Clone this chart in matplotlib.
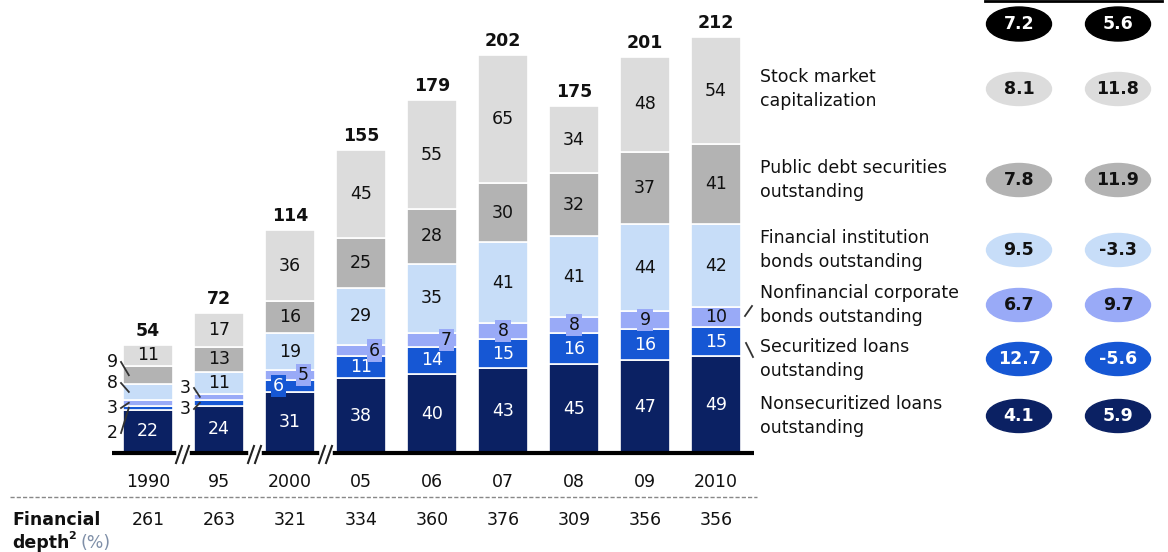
import matplotlib
matplotlib.use('Agg')
import matplotlib.pyplot as plt
from matplotlib.patches import Ellipse
import numpy as np

plt.rcParams['font.family'] = ['DejaVu Sans']

years = ['1990', '95', '2000', '05', '06', '07', '08', '09', '2010']
nonsecuritized = [22, 24, 31, 38, 40, 43, 45, 47, 49]
securitized = [2, 3, 6, 11, 14, 15, 16, 16, 15]
nonfin_bonds = [3, 3, 5, 6, 7, 8, 8, 9, 10]
fin_bonds = [8, 11, 19, 29, 35, 41, 41, 44, 42]
public_debt = [9, 13, 16, 25, 28, 30, 32, 37, 41]
stock_market = [11, 17, 36, 45, 55, 65, 34, 48, 54]
totals = [54, 72, 114, 155, 179, 202, 175, 201, 212]
fin_depth = [261, 263, 321, 334, 360, 376, 309, 356, 356]

series_names = ['Nonsecuritized loans\noutstanding', 'Securitized loans\noutstanding',
                'Nonfinancial corporate\nbonds outstanding', 'Financial institution\nbonds outstanding',
                'Public debt securities\noutstanding', 'Stock market\ncapitalization']
growth_1 = [4.1, 12.7, 6.7, 9.5, 7.8, 8.1]
growth_2 = [5.9, -5.6, 9.7, -3.3, 11.9, 11.8]
growth_total = [7.2, 5.6]

colors = ['#0b2163', '#1657d4', '#99aaf7', '#c7ddf8', '#b3b3b3', '#dcdcdc']
text_cols = ['white', 'white', '#111111', '#111111', '#111111', '#111111']
series = [nonsecuritized, securitized, nonfin_bonds, fin_bonds, public_debt, stock_market]

# pixel layout -> data units
X0, DX = 148.0, 71.0
Y0, DY = 453.0, 1.97
def px(x):
    return (x - X0) / DX
def py(y):
    return (Y0 - y) / DY

FS = 12.5
fig = plt.figure(figsize=(11.68, 5.52), dpi=100)
ax = fig.add_axes([0, 0, 1, 1])
ax.set_xlim(px(0), px(1168))
ax.set_ylim(py(552), py(0))
ax.axis('off')

x = np.arange(len(years))
W = 0.70
bottom = np.zeros(len(years))
for k, vals in enumerate(series):
    ax.bar(x, vals, W, bottom=bottom, color=colors[k], edgecolor='white', linewidth=1.2, zorder=2)
    bottom += np.array(vals)

# special small-segment labels
boxed = {(2, 1): -0.16, (2, 2): 0.19, (3, 2): 0.19, (4, 2): 0.2, (5, 2): 0.0, (6, 2): 0.0, (7, 2): 0.0}
outside = {(0, 4): 362, (0, 3): 383, (0, 2): 408, (0, 1): 433, (1, 2): 388, (1, 1): 409}

bottom = np.zeros(len(years))
for k, vals in enumerate(series):
    for i, v in enumerate(vals):
        yc = bottom[i] + v / 2
        if (i, k) in outside:
            ly = outside[(i, k)]
            lx = 112 if i == 0 else 185
            ax.text(px(lx), py(ly), str(v), ha='center', va='center', fontsize=FS, color='#111111')
            ax.plot([px(lx + 9), x[i] - W / 2 + 0.08], [py(ly), yc], color='#333333', lw=1.3, zorder=3)
        elif (i, k) in boxed:
            ax.text(x[i] + boxed[(i, k)], yc, str(v), ha='center', va='center', fontsize=FS,
                    color=text_cols[k], zorder=4,
                    bbox=dict(boxstyle='square,pad=0.12', fc=colors[k], ec='none'))
        else:
            ax.text(x[i], yc, str(v), ha='center', va='center', fontsize=FS, color=text_cols[k], zorder=4)
    bottom += np.array(vals)

for i, t in enumerate(totals):
    ax.text(x[i], bottom[i] + 2.5, str(t), ha='center', va='bottom', fontsize=FS, fontweight='bold', color='#111111')

# axis line with breaks
ax.plot([px(112), px(754)], [0, 0], color='black', lw=3, zorder=3, solid_capstyle='butt')
for bx in [183, 255, 326]:
    ax.plot([px(bx - 4), px(bx + 4)], [0, 0], color='white', lw=4, zorder=4)
    for off in (-4, 3):
        ax.plot([px(bx + off - 3), px(bx + off + 3)], [py(463), py(446)], color='#222222', lw=1.5, zorder=5)

for i, yr in enumerate(years):
    ax.text(x[i], py(482), yr, ha='center', va='center', fontsize=FS, color='#111111')
    ax.text(x[i], py(520), str(fin_depth[i]), ha='center', va='center', fontsize=FS, color='#111111')

ax.plot([px(10), px(757)], [py(497), py(497)], color='#888888', lw=1, dashes=(3, 1.5))
ax.text(px(12), py(520), 'Financial', ha='left', va='center', fontsize=FS, fontweight='bold', color='#111111')
ax.text(px(12), py(543), 'depth', ha='left', va='center', fontsize=FS, fontweight='bold', color='#111111')
ax.text(px(68), py(536), '2', ha='left', va='center', fontsize=8, fontweight='bold', color='#111111')
ax.text(px(80), py(543), '(%)', ha='left', va='center', fontsize=FS, color='#7f8fa8')

# right panel
row_y = [416, 359, 305, 250, 180, 89]
ell_cols = ['#0b2163', '#1657d4', '#99aaf7', '#c7ddf8', '#b3b3b3', '#dcdcdc']
ell_text = ['white', 'white', '#111111', '#111111', '#111111', '#111111']
for k in range(len(series_names)):
    ax.text(px(760), py(row_y[k]), series_names[k], ha='left', va='center', fontsize=FS,
            color='#111111', linespacing=1.45)
    for cx, vals in [(1019, growth_1), (1118, growth_2)]:
        ax.add_patch(Ellipse((px(cx), py(row_y[k])), 65 / DX, 33 / DY, color=ell_cols[k], zorder=2))
        ax.text(px(cx), py(row_y[k]), f'{vals[k]:.1f}', ha='center', va='center', fontsize=FS,
                fontweight='bold', color=ell_text[k], zorder=3)
for cx, v in zip([1019, 1118], growth_total):
    ax.add_patch(Ellipse((px(cx), py(24)), 65 / DX, 34 / DY, color='black', zorder=2))
    ax.text(px(cx), py(24), f'{v:.1f}', ha='center', va='center', fontsize=FS, fontweight='bold',
            color='white', zorder=3)
ax.plot([px(985), px(1162)], [py(1), py(1)], color='black', lw=2)

# connectors to the 2010 bar
ax.plot([px(745), px(752)], [py(316), py(306)], color='#333333', lw=1.3)
ax.plot([px(746), px(753)], [py(343), py(357)], color='#333333', lw=1.3)

fig.savefig('out.png', dpi=100)
